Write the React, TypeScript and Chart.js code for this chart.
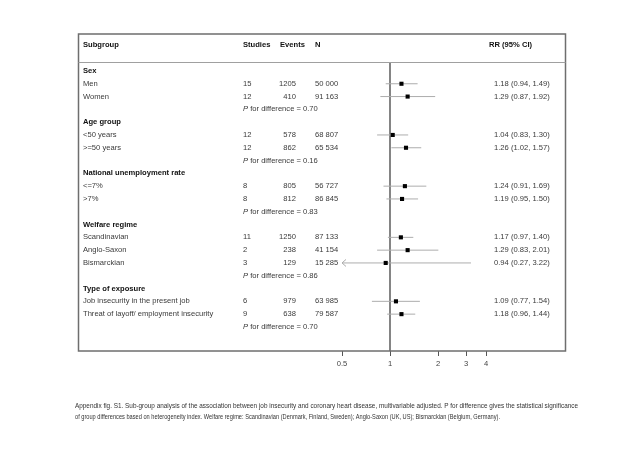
import React, { useEffect, useRef } from "react";
import { Chart, registerables } from "chart.js";

Chart.register(...registerables);

const groups = ["Sex", "Age group", "National unemployment rate", "Welfare regime", "Type of exposure"];
const subgroups = [
  "Men", "Women",
  "<50 years", ">=50 years",
  "<=7%", ">7%",
  "Scandinavian", "Anglo-Saxon", "Bismarckian",
  "Job insecurity in the present job", "Threat of layoff/ employment insecurity",
];
const subgroupGroup = [0, 0, 1, 1, 2, 2, 3, 3, 3, 4, 4];
const studies = [15, 12, 12, 12, 8, 8, 11, 2, 3, 6, 9];
const events = [1205, 410, 578, 862, 805, 812, 1250, 238, 129, 979, 638];
const participants = ["50 000", "91 163", "68 807", "65 534", "56 727", "86 845", "87 133", "41 154", "15 285", "63 985", "79 587"];
const rr = [1.18, 1.29, 1.04, 1.26, 1.24, 1.19, 1.17, 1.29, 0.94, 1.09, 1.18];
const ciLow = [0.94, 0.87, 0.83, 1.02, 0.91, 0.95, 0.97, 0.83, 0.27, 0.77, 0.96];
const ciHigh = [1.49, 1.92, 1.30, 1.57, 1.69, 1.50, 1.40, 2.01, 3.22, 1.54, 1.44];
const pDiff = ["0.70", "0.16", "0.83", "0.86", "0.70"];
const xTicks = [0.5, 1, 2, 3, 4];
const headers = ["Subgroup", "Studies", "Events", "N", "RR (95% CI)"];
const captionLines = [
  "Appendix fig. S1. Sub-group analysis of the association between job insecurity and coronary heart disease, multivariable adjusted. P for difference gives the statistical significance",
  "of group differences based on heterogeneity index. Welfare regime: Scandinavian (Denmark, Finland, Sweden); Anglo-Saxon (UK, US); Bismarckian (Belgium, Germany).",
];

// Build row layout from group structure
type Row = { kind: "group" | "item" | "p"; idx: number };
const rows: Row[] = [];
groups.forEach((g, gi) => {
  rows.push({ kind: "group", idx: gi });
  subgroupGroup.forEach((sg, si) => {
    if (sg === gi) rows.push({ kind: "item", idx: si });
  });
  rows.push({ kind: "p", idx: gi });
});
const itemRow: number[] = [];
rows.forEach((r, ri) => {
  if (r.kind === "item") itemRow[r.idx] = ri;
});

const FONT = "'Liberation Sans', Arial, sans-serif";
const X_MIN = 0.5;
const X_MAX = 4;
const FS = 7.6;

const tablePlugin = {
  id: "forestTable",
  beforeDatasetsDraw(chart: any) {
    const { ctx, chartArea, scales } = chart;
    const xs = scales.x;
    const ys = scales.y;
    ctx.save();
    // reference line at 1
    const x1 = xs.getPixelForValue(1);
    ctx.strokeStyle = "#333";
    ctx.lineWidth = 1.2;
    ctx.beginPath();
    ctx.moveTo(x1, chartArea.top);
    ctx.lineTo(x1, chartArea.bottom);
    ctx.stroke();
    // CI lines
    ctx.strokeStyle = "#adadad";
    ctx.lineWidth = 1;
    rr.forEach((_, i) => {
      const y = ys.getPixelForValue(itemRow[i]);
      const lo = Math.max(ciLow[i], X_MIN);
      const hi = Math.min(ciHigh[i], X_MAX);
      const xl = xs.getPixelForValue(lo);
      const xh = xs.getPixelForValue(hi);
      ctx.beginPath();
      ctx.moveTo(xl, y);
      ctx.lineTo(xh, y);
      ctx.stroke();
      if (ciLow[i] < X_MIN) {
        ctx.beginPath();
        ctx.moveTo(xl + 4, y - 3.5);
        ctx.lineTo(xl, y);
        ctx.lineTo(xl + 4, y + 3.5);
        ctx.stroke();
      }
    });
    ctx.restore();
  },
  afterDraw(chart: any) {
    const { ctx, chartArea, scales } = chart;
    const ys = scales.y;
    ctx.save();
    // box
    const L = 78.5, R = 565.5, T = 34, B = chartArea.bottom;
    ctx.strokeStyle = "#6e6e6e";
    ctx.lineWidth = 1.5;
    ctx.strokeRect(L, T, R - L, B - T);
    ctx.strokeStyle = "#a0a0a0";
    ctx.lineWidth = 1;
    ctx.beginPath();
    ctx.moveTo(L, chartArea.top + 0.5);
    ctx.lineTo(R, chartArea.top + 0.5);
    ctx.stroke();

    ctx.textBaseline = "middle";
    // headers
    const hy = ys.getPixelForValue(-2.0);
    ctx.fillStyle = "#111";
    ctx.font = `bold ${FS}px ${FONT}`;
    ctx.textAlign = "left";
    ctx.fillText(headers[0], 83, hy);
    ctx.fillText(headers[1], 243, hy);
    ctx.fillText(headers[2], 280, hy);
    ctx.fillText(headers[3], 315, hy);
    ctx.fillText(headers[4], 489, hy);

    rows.forEach((r, ri) => {
      const y = ys.getPixelForValue(ri);
      if (r.kind === "group") {
        ctx.font = `bold ${FS}px ${FONT}`;
        ctx.fillStyle = "#111";
        ctx.textAlign = "left";
        ctx.fillText(groups[r.idx], 83, y);
      } else if (r.kind === "item") {
        const i = r.idx;
        ctx.font = `${FS}px ${FONT}`;
        ctx.fillStyle = "#3a3a3a";
        ctx.textAlign = "left";
        ctx.fillText(subgroups[i], 83, y);
        ctx.fillText(String(studies[i]), 243, y);
        ctx.textAlign = "right";
        ctx.fillText(String(events[i]), 296, y);
        ctx.textAlign = "left";
        ctx.fillText(participants[i], 315, y);
        ctx.fillText(
          `${rr[i].toFixed(2)} (${ciLow[i].toFixed(2)}, ${ciHigh[i].toFixed(2)})`,
          494,
          y
        );
      } else {
        ctx.fillStyle = "#3a3a3a";
        ctx.textAlign = "left";
        ctx.font = `italic ${FS}px ${FONT}`;
        ctx.fillText("P", 243, y);
        const pw = ctx.measureText("P").width;
        ctx.font = `${FS}px ${FONT}`;
        ctx.fillText(` for difference = ${pDiff[r.idx]}`, 243 + pw, y);
      }
    });

    // caption
    ctx.font = `6.7px ${FONT}`;
    ctx.fillStyle = "#333";
    ctx.textAlign = "left";
    ctx.fillText(captionLines[0], 75, 406, 503);
    ctx.fillText(captionLines[1], 75, 417, 425);
    ctx.restore();
  },
};

export default function App() {
  const ref = useRef<HTMLCanvasElement>(null);
  useEffect(() => {
    document.body.style.margin = "0";
    const canvas = ref.current;
    if (!canvas) return;
    const points = rr.map((v, i) => ({ x: v, y: itemRow[i] }));
    const chart = new Chart(canvas, {
      type: "scatter",
      data: {
        datasets: [
          {
            label: "RR",
            data: points,
            pointStyle: "rect",
            pointRadius: 2.9,
            pointBackgroundColor: "#000",
            pointBorderColor: "#000",
            pointBorderWidth: 0,
          },
        ],
      },
      plugins: [tablePlugin],
      options: {
        responsive: false,
        animation: false,
        events: [],
        layout: { padding: { left: 342, right: 154, top: 62, bottom: 81 } },
        plugins: { legend: { display: false }, tooltip: { enabled: false } },
        scales: {
          x: {
            type: "logarithmic",
            min: X_MIN,
            max: X_MAX,
            border: { display: false },
            grid: { drawOnChartArea: false, drawTicks: true, tickLength: 5, color: "#555" },
            afterBuildTicks: (scale: any) => {
              scale.ticks = xTicks.map((v) => ({ value: v }));
            },
            afterFit: (scale: any) => {
              scale.height = 20;
            },
            ticks: {
              autoSkip: false,
              maxRotation: 0,
              padding: 3,
              color: "#444",
              font: { family: FONT, size: FS },
              callback: (v: any) => String(v),
            },
          },
          y: {
            type: "linear",
            reverse: true,
            min: -0.7,
            max: 21.88,
            display: false,
          },
        },
      },
    } as any);
    return () => chart.destroy();
  }, []);
  return (
    <div style={{ width: 640, height: 452, background: "#fff" }}>
      <canvas ref={ref} width={640} height={452} style={{ display: "block" }} />
    </div>
  );
}
